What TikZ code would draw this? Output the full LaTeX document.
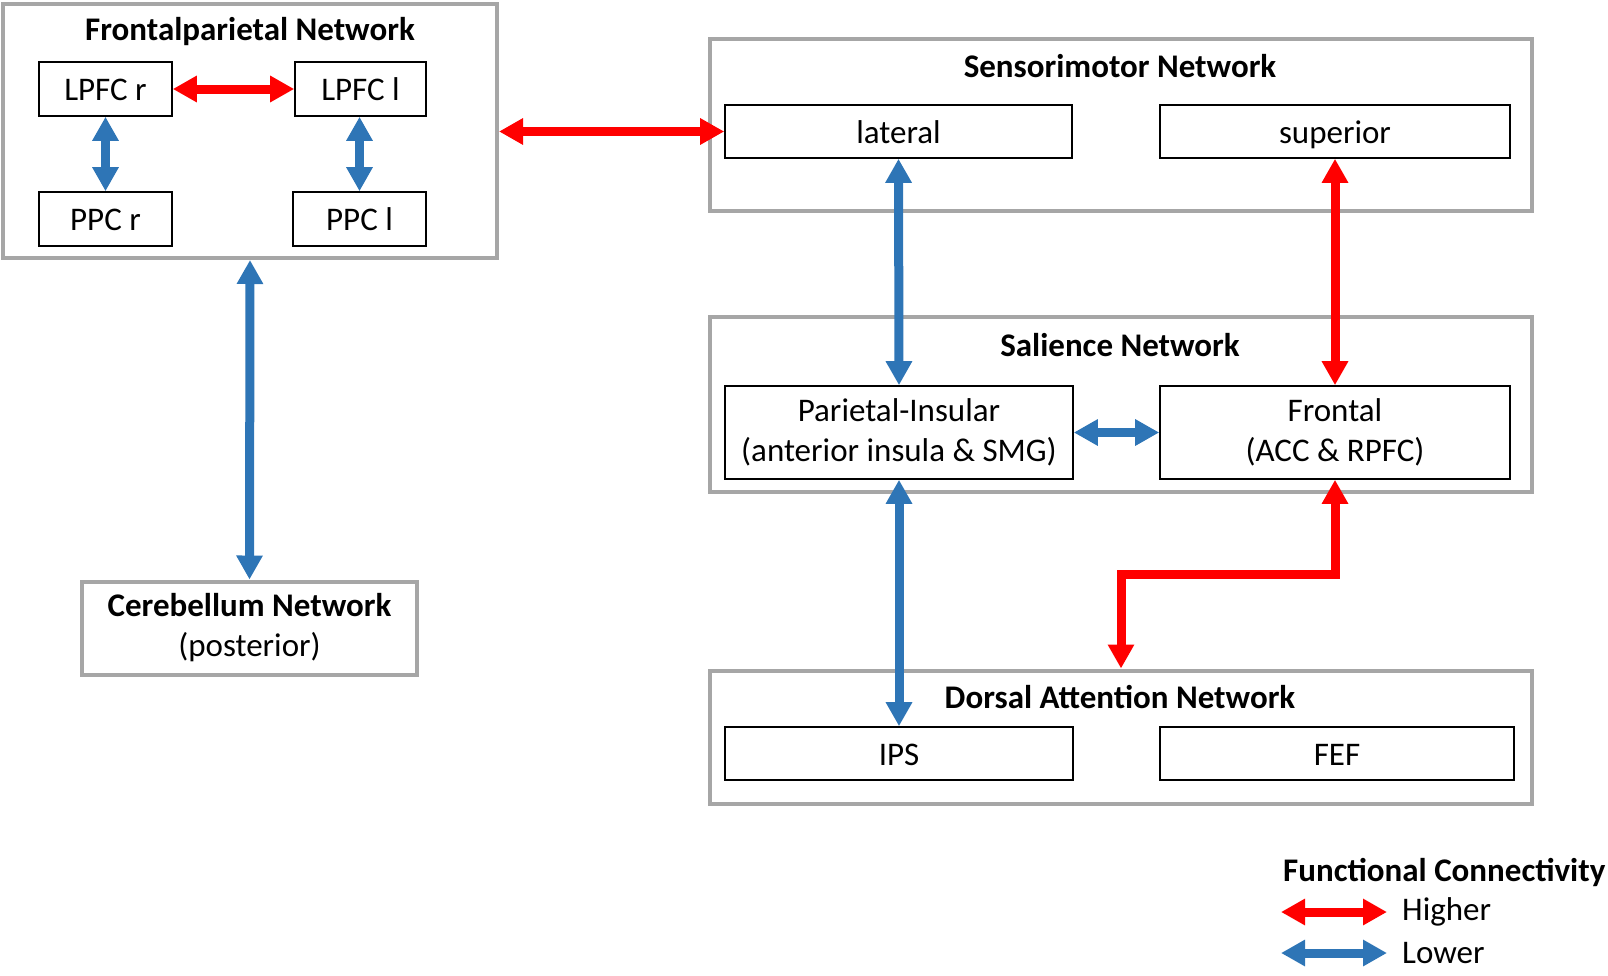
\documentclass[tikz,border=0pt]{standalone}
\usepackage{fontspec}
\setmainfont{Carlito}
\usetikzlibrary{arrows.meta}
\definecolor{boxgray}{HTML}{A6A6A6}
\definecolor{lowblue}{HTML}{2E75B6}
\definecolor{highred}{HTML}{FF0000}
\begin{document}
\begin{tikzpicture}[x=1pt,y=-1pt,
  every node/.style={font=\fontsize{33}{40}\selectfont},
  netbox/.style={draw=boxgray, line width=4pt, rectangle, inner sep=0pt},
  regbox/.style={draw=black, line width=1.6pt, rectangle, inner sep=0pt, align=center},
  oneline/.style={text height=30pt, text depth=7pt},
  nettitle/.style={font=\fontsize{33}{40}\selectfont\bfseries, inner sep=0pt},
  conn/.style={line width=9pt, {Triangle[width=25pt,length=24pt]}-{Triangle[width=25pt,length=24pt]}},
  hi/.style={conn, draw=highred},
  lo/.style={conn, draw=lowblue}
]
\useasboundingbox (0,0) rectangle (1608,975);
% Frontalparietal network
\node[netbox, minimum width=494pt, minimum height=254pt] (fp) at (250,131) {};
\node[nettitle] (fpt) at (250,32) {Frontalparietal Network};
\node[regbox, oneline, minimum width=133pt, minimum height=54pt] (lpfcr) at (105.5,89) {LPFC r};
\node[regbox, oneline, minimum width=131pt, minimum height=54pt] (lpfcl) at (360.5,89) {LPFC l};
\node[regbox, oneline, minimum width=133pt, minimum height=54pt] (ppcr) at (105.5,219) {PPC r};
\node[regbox, oneline, minimum width=133pt, minimum height=54pt] (ppcl) at (359.5,219) {PPC l};
% Cerebellum
\node[netbox, minimum width=335pt, minimum height=93pt, align=center] (cer) at (249.5,628) {\textbf{Cerebellum Network}\\(posterior)};
% Sensorimotor
\node[netbox, minimum width=822pt, minimum height=172pt] (sm) at (1121,125) {};
\node[nettitle] (smt) at (1120,66) {Sensorimotor Network};
\node[regbox, oneline, minimum width=347pt, minimum height=53pt] (lateral) at (898.5,131.5) {lateral};
\node[regbox, oneline, minimum width=350pt, minimum height=53pt] (superior) at (1335,131.5) {superior};
% Salience
\node[netbox, minimum width=822pt, minimum height=175pt] (sal) at (1121,404) {};
\node[nettitle] (salt) at (1120,345) {Salience Network};
\node[regbox, minimum width=348pt, minimum height=93pt] (pi) at (899,432.5) {Parietal-Insular\\(anterior insula \& SMG)};
\node[regbox, minimum width=350pt, minimum height=93pt] (frontal) at (1335,432.5) {Frontal\\(ACC \& RPFC)};
% Dorsal attention
\node[netbox, minimum width=822pt, minimum height=133pt] (dan) at (1121,737) {};
\node[nettitle] (dant) at (1120,697) {Dorsal Attention Network};
\node[regbox, oneline, minimum width=348pt, minimum height=53pt] (ips) at (899,753.5) {IPS};
\node[regbox, oneline, minimum width=354pt, minimum height=53pt] (fef) at (1337,753.5) {FEF};
% connectors
\draw[hi] (lpfcr.east) -- (lpfcl.west);
\draw[lo] (lpfcr.south) -- (ppcr.north);
\draw[lo] (lpfcl.south -| ppcl.north) -- (ppcl.north);
\draw[hi] (fp.east |- lateral.west) -- (lateral.west);
\draw[lo] (fp.south) -- (cer.north);
\draw[lo] (lateral.south) -- (pi.north);
\draw[hi] (superior.south) -- (frontal.south |- frontal.north);
\draw[lo] (pi.east) -- (frontal.west);
\draw[lo] (pi.south) -- (ips.north);
\coordinate (bend) at (1121,574);
\draw[hi] (frontal.south) |- (bend) -- (bend |- dan.north);
% legend
\node[nettitle, anchor=west] (legt) at (1283,872) {Functional Connectivity};
\coordinate (hA) at (1281,912);
\coordinate (hB) at (1387,912);
\coordinate (lA) at (1281,953);
\coordinate (lB) at (1387,953);
\draw[hi] (hA) -- (hB);
\draw[lo] (lA) -- (lB);
\node[anchor=west, inner sep=0pt] (hl) at (1402,912) {Higher};
\node[anchor=west, inner sep=0pt] (ll) at (1402,953) {Lower};
\end{tikzpicture}
\end{document}
